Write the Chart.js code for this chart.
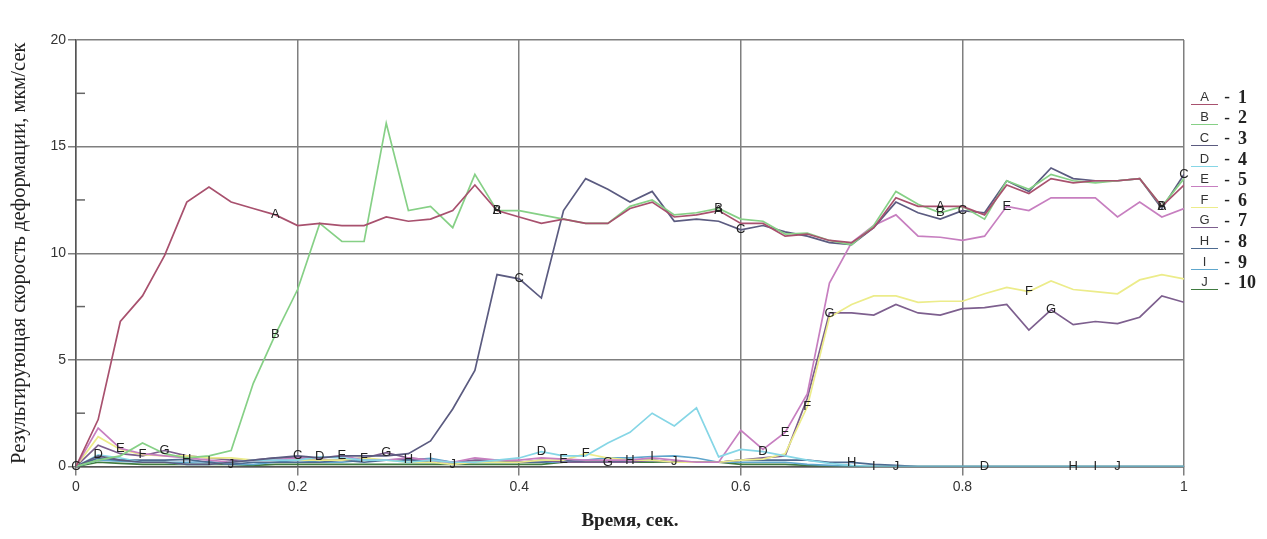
<!DOCTYPE html>
<html>
<head>
<meta charset="utf-8">
<script src="https://cdn.jsdelivr.net/npm/chart.js@4.4.1/dist/chart.umd.min.js"></script>
<style>
  html, body { margin: 0; padding: 0; background: #fff; }
  #wrap { position: relative; width: 1267px; height: 539px; }
  #legend { position: absolute; left: 1191px; top: 87px; }
  .row { height: 20.6px; display: flex; align-items: center; }
  .let { width: 27px; text-align: center; font: 13px "Liberation Sans", Arial, sans-serif; color: #333; line-height: 14px; border-bottom: 1.5px solid #999; }
  .dash { width: 16px; text-align: center; font: bold 17px "Liberation Serif", serif; color: #222; margin-left: 1px; }
  .num { font: bold 18px "Liberation Serif", serif; color: #222; margin-left: 3px; }
</style>
</head>
<body>
<div id="wrap">
  <canvas id="deformChart" width="1267" height="539"></canvas>
  <div id="legend"></div>
</div>
<script>
// time points, sec
const times = [0, 0.02, 0.04, 0.06, 0.08, 0.1, 0.12, 0.14, 0.16, 0.18,
  0.2, 0.22, 0.24, 0.26, 0.28, 0.3, 0.32, 0.34, 0.36, 0.38,
  0.4, 0.42, 0.44, 0.46, 0.48, 0.5, 0.52, 0.54, 0.56, 0.58,
  0.6, 0.62, 0.64, 0.66, 0.68, 0.7, 0.72, 0.74, 0.76, 0.78,
  0.8, 0.82, 0.84, 0.86, 0.88, 0.9, 0.92, 0.94, 0.96, 0.98, 1];

const seriesLetters = ['A', 'B', 'C', 'D', 'E', 'F', 'G', 'H', 'I', 'J'];
const seriesNumbers = ['1', '2', '3', '4', '5', '6', '7', '8', '9', '10'];

// resulting strain rate, mkm/sec
const seriesA = [0, 2.2, 6.8, 8.0, 9.9, 12.4, 13.1, 12.4, 12.1, 11.8,
  11.3, 11.4, 11.3, 11.3, 11.7, 11.5, 11.6, 12.0, 13.2, 12.0,
  11.7, 11.4, 11.6, 11.4, 11.4, 12.1, 12.4, 11.7, 11.8, 12.0,
  11.4, 11.4, 10.8, 10.9, 10.6, 10.5, 11.2, 12.6, 12.2, 12.2,
  12.2, 11.8, 13.2, 12.8, 13.5, 13.3, 13.4, 13.4, 13.5, 12.2, 13.2];
const seriesB = [0, 0.3, 0.5, 1.1, 0.6, 0.4, 0.5, 0.75, 3.9, 6.2,
  8.3, 11.4, 10.55, 10.55, 16.1, 12.0, 12.2, 11.2, 13.7, 12.0,
  12.0, 11.8, 11.6, 11.4, 11.4, 12.2, 12.5, 11.8, 11.9, 12.1,
  11.6, 11.5, 10.9, 10.95, 10.6, 10.4, 11.3, 12.9, 12.3, 11.9,
  12.2, 11.6, 13.4, 13.0, 13.7, 13.4, 13.3, 13.4, 13.5, 12.2, 13.5];
const seriesC = [0, 0.5, 0.3, 0.2, 0.2, 0.1, 0.1, 0.2, 0.3, 0.4,
  0.5, 0.4, 0.5, 0.5, 0.5, 0.6, 1.2, 2.7, 4.5, 9.0,
  8.8, 7.9, 12.0, 13.5, 13.0, 12.4, 12.9, 11.5, 11.6, 11.5,
  11.1, 11.3, 11.0, 10.8, 10.5, 10.4, 11.2, 12.4, 11.9, 11.6,
  12.0, 11.9, 13.4, 12.9, 14.0, 13.5, 13.4, 13.4, 13.5, 12.1, 13.7];
const seriesD = [0, 0.55, 0.4, 0.2, 0.2, 0.1, 0.1, 0.2, 0.3, 0.3,
  0.3, 0.45, 0.4, 0.3, 0.3, 0.2, 0.3, 0.2, 0.2, 0.3,
  0.4, 0.7, 0.5, 0.5, 1.1, 1.6, 2.5, 1.9, 2.75, 0.45,
  0.8, 0.7, 0.5, 0.3, 0.15, 0.05, 0, 0, 0, 0,
  0, 0, 0, 0, 0, 0, 0, 0, 0, 0, 0];
const seriesE = [0, 1.8, 0.85, 0.6, 0.5, 0.4, 0.3, 0.2, 0.3, 0.3,
  0.4, 0.4, 0.5, 0.3, 0.3, 0.4, 0.3, 0.2, 0.4, 0.3,
  0.3, 0.4, 0.35, 0.3, 0.3, 0.3, 0.4, 0.3, 0.2, 0.2,
  1.7, 0.8, 1.6, 3.4, 8.6, 10.5, 11.3, 11.8, 10.8, 10.75,
  10.6, 10.8, 12.2, 12.0, 12.6, 12.6, 12.6, 11.7, 12.4, 11.7, 12.1];
const seriesF = [0, 1.4, 0.8, 0.55, 0.5, 0.5, 0.4, 0.4, 0.3, 0.3,
  0.3, 0.3, 0.3, 0.4, 0.3, 0.2, 0.2, 0.1, 0.2, 0.2,
  0.2, 0.3, 0.3, 0.6, 0.4, 0.3, 0.3, 0.2, 0.2, 0.2,
  0.3, 0.35, 0.6, 2.8, 7.0, 7.6, 8.0, 8.0, 7.7, 7.75,
  7.75, 8.1, 8.4, 8.2, 8.7, 8.3, 8.2, 8.1, 8.75, 9.0, 8.8];
const seriesG = [0, 1.0, 0.6, 0.5, 0.75, 0.5, 0.4, 0.3, 0.3, 0.4,
  0.4, 0.3, 0.3, 0.4, 0.65, 0.4, 0.3, 0.2, 0.3, 0.3,
  0.2, 0.3, 0.2, 0.2, 0.2, 0.2, 0.3, 0.2, 0.2, 0.2,
  0.3, 0.4, 0.5, 3.2, 7.2, 7.2, 7.1, 7.6, 7.2, 7.1,
  7.4, 7.45, 7.6, 6.4, 7.35, 6.65, 6.8, 6.7, 7.0, 8.0, 7.7];
const seriesH = [0, 0.4, 0.3, 0.3, 0.3, 0.33, 0.2, 0.1, 0.2, 0.2,
  0.2, 0.2, 0.3, 0.2, 0.3, 0.33, 0.2, 0.1, 0.2, 0.3,
  0.2, 0.2, 0.3, 0.2, 0.2, 0.28, 0.3, 0.2, 0.2, 0.2,
  0.3, 0.3, 0.3, 0.3, 0.2, 0.19, 0.1, 0.05, 0, 0,
  0, 0, 0, 0, 0, 0, 0, 0, 0, 0, 0];
const seriesI = [0, 0.3, 0.25, 0.2, 0.2, 0.2, 0.23, 0.1, 0.1, 0.2,
  0.3, 0.2, 0.2, 0.3, 0.3, 0.3, 0.38, 0.2, 0.2, 0.2,
  0.2, 0.2, 0.2, 0.3, 0.4, 0.4, 0.47, 0.5, 0.4, 0.2,
  0.2, 0.2, 0.2, 0.1, 0.05, 0, 0, 0, 0, 0,
  0, 0, 0, 0, 0, 0, 0, 0, 0, 0, 0];
const seriesJ = [0, 0.2, 0.15, 0.1, 0.1, 0.1, 0.1, 0.1, 0.05, 0.1,
  0.1, 0.1, 0.1, 0.1, 0.1, 0.1, 0.1, 0.1, 0.1, 0.1,
  0.1, 0.1, 0.2, 0.2, 0.2, 0.2, 0.2, 0.23, 0.2, 0.2,
  0.1, 0.1, 0.1, 0.05, 0, 0, 0, 0, 0, 0,
  0, 0, 0, 0, 0, 0, 0, 0, 0, 0, 0];

const yTicks = [0, 5, 10, 15, 20];
const xTickLabels = ['0', '0.2', '0.4', '0.6', '0.8', '1'];

const allSeries = [seriesA, seriesB, seriesC, seriesD, seriesE, seriesF, seriesG, seriesH, seriesI, seriesJ];
const lineColors = ['#a8516e', '#86d086', '#5b5b80', '#86d6e6', '#c77fc0', '#ecec8a', '#7d5f8e', '#4d6a90', '#5fa6cc', '#3f7a3f'];
// index of first letter mark on each line, then every 10 points
const markStart = [9, 9, 0, 1, 2, 3, 4, 5, 6, 7];

const datasets = allSeries.map((vals, k) => ({
  label: seriesLetters[k],
  data: vals.map((v, i) => ({ x: times[i], y: v })),
  borderColor: lineColors[k],
  borderWidth: 1.7,
  pointRadius: 0,
  tension: 0,
  markStart: markStart[k]
}));

// small inner ticks between the major y grid lines
const minorTicks = {
  id: 'minorTicks',
  afterDraw(chart) {
    const { ctx, scales: { x, y } } = chart;
    ctx.save();
    ctx.strokeStyle = '#666';
    ctx.lineWidth = 1.5;
    for (let k = 0; k < yTicks.length - 1; k++) {
      const py = y.getPixelForValue((yTicks[k] + yTicks[k + 1]) / 2);
      ctx.beginPath();
      ctx.moveTo(x.left, py);
      ctx.lineTo(x.left + 9, py);
      ctx.stroke();
    }
    ctx.restore();
  }
};

// letters drawn on the lines, like the original plot marks
const letterMarks = {
  id: 'letterMarks',
  afterDatasetsDraw(chart) {
    const { ctx, scales: { x, y } } = chart;
    ctx.save();
    ctx.font = '13px "Liberation Sans", Arial, sans-serif';
    ctx.fillStyle = '#222';
    ctx.textAlign = 'center';
    ctx.textBaseline = 'middle';
    chart.data.datasets.forEach(ds => {
      ds.data.forEach((p, i) => {
        if (i >= ds.markStart && (i - ds.markStart) % 10 === 0) {
          ctx.fillText(ds.label, x.getPixelForValue(p.x), y.getPixelForValue(p.y));
        }
      });
    });
    ctx.restore();
  }
};

const ctx = document.getElementById('deformChart').getContext('2d');
const deformChart = new Chart(ctx, {
  type: 'line',
  data: { datasets: datasets },
  options: {
    responsive: false,
    animation: false,
    devicePixelRatio: 1,
    layout: { padding: { top: 40, right: 83, left: 0, bottom: 0 } },
    plugins: { legend: { display: false }, tooltip: { enabled: false } },
    scales: {
      x: {
        type: 'linear',
        min: 0,
        max: 1,
        afterFit: s => { s.height = 72.5; },
        ticks: {
          stepSize: 0.2,
          callback: v => xTickLabels[Math.round(v * 5)],
          color: '#333',
          font: { family: '"Liberation Sans", Arial, sans-serif', size: 14 },
          padding: 3,
          maxRotation: 0
        },
        grid: { color: '#7f7f7f', lineWidth: 1.5, tickLength: 9 },
        border: { color: '#555', width: 1.5 },
        title: {
          display: true,
          text: 'Время, сек.',
          color: '#222',
          font: { family: '"Liberation Serif", "Times New Roman", serif', size: 19, weight: 'bold' },
          padding: { top: 0, bottom: 7 }
        }
      },
      y: {
        min: 0,
        max: 20,
        afterFit: s => { s.width = 76; },
        ticks: {
          stepSize: 5,
          color: '#333',
          font: { family: '"Liberation Sans", Arial, sans-serif', size: 14 },
          padding: 2
        },
        grid: { color: '#7f7f7f', lineWidth: 1.5, tickLength: 8 },
        border: { color: '#555', width: 1.5 },
        title: {
          display: true,
          text: 'Результирующая скорость деформации, мкм/сек',
          color: '#222',
          font: { family: '"Liberation Serif", "Times New Roman", serif', size: 20.5 },
          padding: { top: 7, bottom: 0 }
        }
      }
    }
  },
  plugins: [minorTicks, letterMarks]
});

// legend on the right: letter over a coloured underline, then "- n"
const legendBox = document.getElementById('legend');
seriesLetters.forEach((letter, k) => {
  const row = document.createElement('div');
  row.className = 'row';
  row.innerHTML = `<span class="let" style="border-bottom-color:${lineColors[k]}">${letter}</span>` +
    `<span class="dash">-</span><span class="num">${seriesNumbers[k]}</span>`;
  legendBox.appendChild(row);
});
</script>
</body>
</html>
